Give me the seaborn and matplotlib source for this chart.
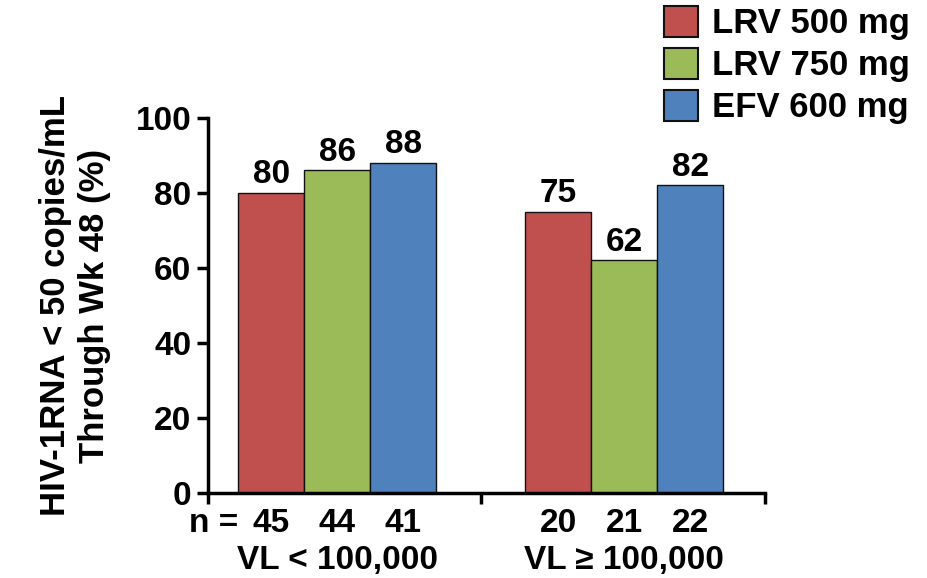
import pandas as pd
import matplotlib
matplotlib.use('Agg')
import matplotlib.pyplot as plt
import seaborn as sns
from matplotlib.patches import Patch

# --- DATA ---
groups = ['VL < 100,000', 'VL ≥ 100,000']
arms = ['LRV 500 mg', 'LRV 750 mg', 'EFV 600 mg']
pct_low = [80, 86, 88]
pct_high = [75, 62, 82]
n_low = [45, 44, 41]
n_high = [20, 21, 22]
colors = ['#C0504D', '#9BBB59', '#4F81BD']
yticks = [0, 20, 40, 60, 80, 100]

df = pd.DataFrame({
    'group': [groups[0]] * 3 + [groups[1]] * 3,
    'arm': arms + arms,
    'pct': pct_low + pct_high,
    'n': n_low + n_high,
})

sns.set_style('white')
plt.rcParams['font.family'] = ['Liberation Sans', 'DejaVu Sans']
plt.rcParams['font.weight'] = 'bold'
plt.rcParams['text.color'] = 'black'
plt.rcParams['axes.labelcolor'] = 'black'
plt.rcParams['xtick.color'] = 'black'
plt.rcParams['ytick.color'] = 'black'
FS = 24

fig = plt.figure(figsize=(9.27, 5.78), dpi=100)
ax = fig.add_axes([0.2244, 0.147, 0.6006, 0.649])

sns.barplot(data=df, x='group', y='pct', hue='arm', hue_order=arms,
            palette=colors, width=0.69, edgecolor='#111111', linewidth=1.0,
            saturation=1, legend=False, ax=ax)

# value labels on top of bars
for cont in ax.containers:
    ax.bar_label(cont, fmt='%d', padding=2, fontsize=FS, fontweight='bold')

ax.set_ylim(0, 100)
ax.set_xlim(-0.45, 1.49)
ax.set_yticks(yticks)
ax.set_yticklabels([str(t) for t in yticks], fontsize=FS, fontweight='bold')
ax.set_xticks([-0.45, 0.5, 1.49])
ax.set_xticklabels([])
ax.tick_params(axis='both', direction='out', length=8, width=2.5,
               left=True, bottom=True, pad=4)
for s in ['top', 'right']:
    ax.spines[s].set_visible(False)
for s in ['left', 'bottom']:
    ax.spines[s].set_linewidth(2.5)
    ax.spines[s].set_color('black')
ax.set_xlabel('')
ax.set_ylabel('HIV-1RNA < 50 copies/mL\nThrough Wk 48 (%)', fontsize=25,
              fontweight='bold', labelpad=18, linespacing=1.2)

# n counts and group labels under the axis
trans = ax.get_xaxis_transform()
offsets = [-0.23, 0.0, 0.23]
for gi, counts in enumerate([n_low, n_high]):
    for k, n in enumerate(counts):
        ax.text(gi + offsets[k], -0.08, str(n), transform=trans, ha='center',
                va='center', fontsize=FS, fontweight='bold')
    ax.text(gi, -0.18, groups[gi], transform=trans, ha='center', va='center',
            fontsize=FS, fontweight='bold')
ax.text(-0.345, -0.08, 'n =', transform=trans, ha='right', va='center',
        fontsize=FS, fontweight='bold')

handles = [Patch(facecolor=c, edgecolor='#111111', linewidth=1.5) for c in colors]
fig.legend(handles, arms, loc='upper left', bbox_to_anchor=(0.716, 0.99),
           frameon=False, handlelength=1.0, handleheight=1.0,
           labelspacing=0.22, handletextpad=0.4, borderaxespad=0, borderpad=0,
           prop={'weight': 'bold', 'size': 25})

fig.savefig('out.png', dpi=100)
